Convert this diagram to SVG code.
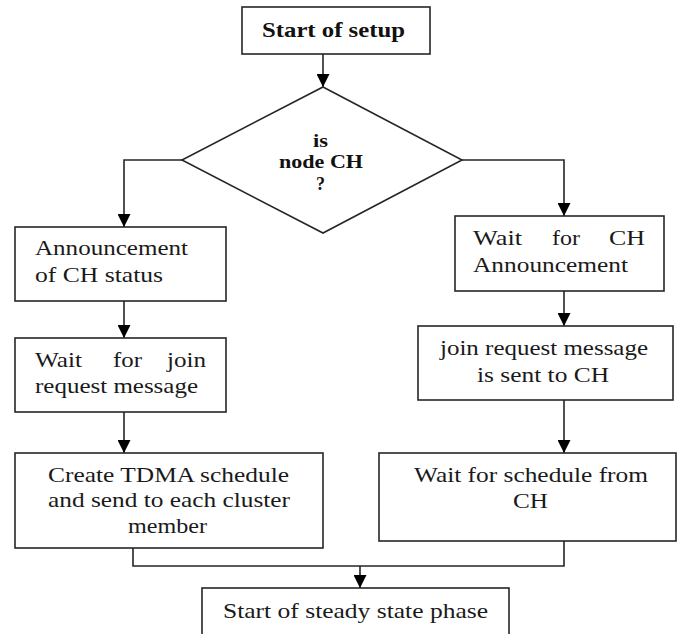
<svg xmlns="http://www.w3.org/2000/svg" width="677" height="634" viewBox="0 0 677 634">
<style>
.box{fill:#fff;stroke:#262626;stroke-width:1.6}
.ln{fill:none;stroke:#262626;stroke-width:1.6}
.t{font-family:"Liberation Serif","Times New Roman",serif;font-size:22px;fill:#1a1a1a}
.b{font-family:"Liberation Serif","Times New Roman",serif;font-weight:bold;fill:#111}
</style>
<defs>
<marker id="ah" markerUnits="userSpaceOnUse" markerWidth="13" markerHeight="13" refX="13" refY="6.5" orient="auto">
<path d="M0,0 L13,6.5 L0,13 Z" fill="#000"/>
</marker>
</defs>
<rect width="677" height="634" fill="#fff"/>
<g id="connectors">
<path class="ln" d="M323,54 V87" marker-end="url(#ah)"/>
<path class="ln" d="M182,160 H124 V227" marker-end="url(#ah)"/>
<path class="ln" d="M462,160 H564 V216" marker-end="url(#ah)"/>
<path class="ln" d="M124,301 V338" marker-end="url(#ah)"/>
<path class="ln" d="M124,412 V453" marker-end="url(#ah)"/>
<path class="ln" d="M564,291 V326" marker-end="url(#ah)"/>
<path class="ln" d="M564,400 V453" marker-end="url(#ah)"/>
<path class="ln" d="M133,548 V566 H564 V541"/>
<path class="ln" d="M360,566 V588" marker-end="url(#ah)"/>
</g>
<g id="start">
<rect class="box" x="242" y="7" width="188" height="47"/>
<text class="b" x="262" y="37" font-size="22" textLength="143" lengthAdjust="spacingAndGlyphs">Start of setup</text>
</g>
<g id="decision">
<polygon class="box" points="323,87 462,160 323,233 182,160"/>
<text class="b" x="313" y="147" font-size="18" textLength="15" lengthAdjust="spacingAndGlyphs">is</text>
<text class="b" x="279" y="168" font-size="18" textLength="84" lengthAdjust="spacingAndGlyphs">node CH</text>
<text class="b" x="316" y="190" font-size="18" textLength="9" lengthAdjust="spacingAndGlyphs">?</text>
</g>
<g id="announce">
<rect class="box" x="15" y="227" width="211" height="74"/>
<text class="t" x="35" y="255" textLength="153" lengthAdjust="spacingAndGlyphs">Announcement</text>
<text class="t" x="35" y="282" textLength="128" lengthAdjust="spacingAndGlyphs">of CH status</text>
</g>
<g id="waitjoin">
<rect class="box" x="15" y="338" width="211" height="74"/>
<text class="t" x="35" y="367" textLength="47" lengthAdjust="spacingAndGlyphs">Wait</text>
<text class="t" x="113" y="367" textLength="29" lengthAdjust="spacingAndGlyphs">for</text>
<text class="t" x="167" y="367" textLength="39" lengthAdjust="spacingAndGlyphs">join</text>
<text class="t" x="35" y="393" textLength="163" lengthAdjust="spacingAndGlyphs">request message</text>
</g>
<g id="tdma">
<rect class="box" x="15" y="453" width="308" height="95"/>
<text class="t" x="48" y="482" textLength="241" lengthAdjust="spacingAndGlyphs">Create TDMA schedule</text>
<text class="t" x="48" y="507" textLength="242" lengthAdjust="spacingAndGlyphs">and send to each cluster</text>
<text class="t" x="128" y="533" textLength="79" lengthAdjust="spacingAndGlyphs">member</text>
</g>
<g id="waitch">
<rect class="box" x="455" y="216" width="209" height="75"/>
<text class="t" x="473" y="245" textLength="49" lengthAdjust="spacingAndGlyphs">Wait</text>
<text class="t" x="552" y="245" textLength="28" lengthAdjust="spacingAndGlyphs">for</text>
<text class="t" x="609" y="245" textLength="36" lengthAdjust="spacingAndGlyphs">CH</text>
<text class="t" x="473" y="272" textLength="155" lengthAdjust="spacingAndGlyphs">Announcement</text>
</g>
<g id="joinsent">
<rect class="box" x="418" y="326" width="255" height="74"/>
<text class="t" x="440" y="355" textLength="208" lengthAdjust="spacingAndGlyphs">join request message</text>
<text class="t" x="477" y="382" textLength="132" lengthAdjust="spacingAndGlyphs">is sent to CH</text>
</g>
<g id="waitsched">
<rect class="box" x="379" y="453" width="297" height="88"/>
<text class="t" x="414" y="482" textLength="234" lengthAdjust="spacingAndGlyphs">Wait for schedule from</text>
<text class="t" x="513" y="508" textLength="35" lengthAdjust="spacingAndGlyphs">CH</text>
</g>
<g id="steady">
<rect class="box" x="202" y="588" width="307" height="60"/>
<text class="t" x="223" y="618" textLength="265" lengthAdjust="spacingAndGlyphs">Start of steady state phase</text>
</g>
</svg>
